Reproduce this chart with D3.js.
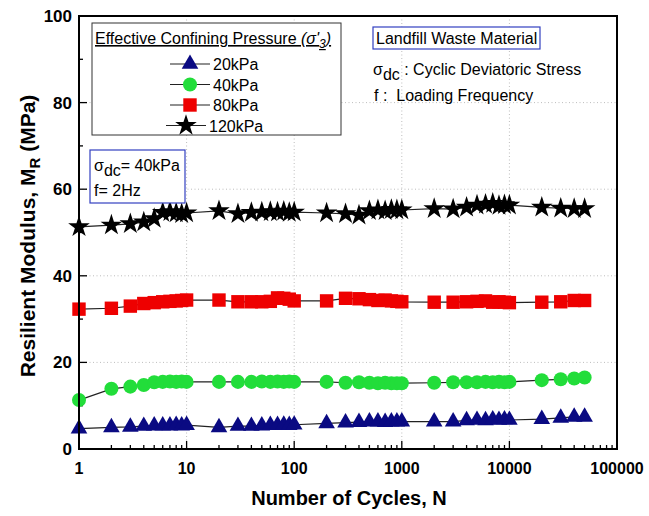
<!DOCTYPE html>
<html>
<head>
<meta charset="utf-8">
<script src="https://cdn.jsdelivr.net/npm/d3@7"></script>
<style>
  html, body { margin: 0; padding: 0; background: #fff; }
  svg { display: block; font-family: Arial, "Liberation Sans", sans-serif; }
</style>
</head>
<body>
<svg id="chart" width="649" height="516"></svg>
<script>
// Loading cycles at which the resilient modulus was recorded
const cycles = [1, 2, 3, 4, 5, 6, 7, 8, 9, 10,
  20, 30, 40, 50, 60, 70, 80, 90, 100,
  200, 300, 400, 500, 600, 700, 800, 900, 1000,
  2000, 3000, 4000, 5000, 6000, 7000, 8000, 9000, 10000,
  20000, 30000, 40000, 50000];

// Resilient modulus M_R (MPa) for each effective confining pressure
const mr20 = [4.7, 5.0, 5.1, 5.3, 5.4, 5.4, 5.4, 5.5, 5.4, 5.5,
  5.0, 5.3, 5.3, 5.4, 5.5, 5.5, 5.6, 5.5, 5.6,
  5.9, 6.1, 6.2, 6.3, 6.3, 6.2, 6.3, 6.3, 6.3,
  6.3, 6.3, 6.6, 6.7, 6.6, 6.8, 6.7, 6.8, 6.7,
  6.9, 7.2, 7.4, 7.4];
const mr40 = [11.3, 13.9, 14.4, 14.8, 15.4, 15.5, 15.6, 15.5, 15.6, 15.5,
  15.5, 15.5, 15.5, 15.6, 15.5, 15.6, 15.5, 15.6, 15.5,
  15.5, 15.3, 15.4, 15.3, 15.2, 15.3, 15.2, 15.2, 15.2,
  15.3, 15.4, 15.4, 15.4, 15.5, 15.4, 15.5, 15.4, 15.5,
  15.9, 16.1, 16.3, 16.5];
const mr80 = [32.3, 32.5, 33.0, 33.6, 33.8, 34.0, 34.1, 34.2, 34.3, 34.4,
  34.4, 34.0, 34.0, 34.0, 34.1, 34.9, 34.8, 34.6, 34.2,
  34.2, 34.8, 34.7, 34.5, 34.3, 34.4, 34.2, 34.1, 34.0,
  33.9, 33.9, 34.0, 34.1, 34.2, 33.9, 34.0, 33.9, 33.8,
  33.9, 34.0, 34.3, 34.3];
const mr120 = [51.3, 51.7, 52.0, 52.4, 53.2, 54.6, 54.8, 54.5, 54.3, 54.5,
  55.0, 54.3, 54.6, 54.7, 54.8, 54.7, 54.9, 54.6, 54.7,
  54.5, 54.3, 54.0, 55.0, 55.2, 55.0, 55.3, 55.2, 55.2,
  55.5, 55.4, 55.8, 56.3, 56.5, 56.7, 56.2, 56.4, 56.3,
  55.8, 55.6, 55.5, 55.5];

const seriesNames = ["20kPa", "40kPa", "80kPa", "120kPa"];
const seriesValues = [mr20, mr40, mr80, mr120];

// Axis tick values
const xTicks = [1, 10, 100, 1000, 10000, 100000];
const yTicks = [0, 20, 40, 60, 80, 100];

// Marker appearance per series
const styles = [
  { symbol: d3.symbolTriangle, size: 120, fill: "#0a0a82" },
  { symbol: d3.symbolCircle,   size: 155, fill: "#22dd3a" },
  { symbol: d3.symbolSquare,   size: 180, fill: "#ee0000" },
  { symbol: d3.symbolStar,     size: 145, fill: "#000000" }
];

const svg = d3.select("#chart");
const plotL = 79, plotR = 617, plotT = 16, plotB = 449;

const x = d3.scaleLog().domain([1, 100000]).range([plotL, plotR]);
const y = d3.scaleLinear().domain([0, 100]).range([plotB, plotT]);

// Dotted grid at the major ticks
const grid = svg.append("g").attr("stroke", "#bdbdbd").attr("stroke-width", 1)
  .attr("stroke-dasharray", "1,2.5");
xTicks.slice(1, -1).forEach(v => {
  grid.append("line").attr("x1", x(v)).attr("x2", x(v)).attr("y1", plotT).attr("y2", plotB);
});
yTicks.slice(1, -1).forEach(v => {
  grid.append("line").attr("x1", plotL).attr("x2", plotR).attr("y1", y(v)).attr("y2", y(v));
});

// Inward-facing ticks
const ticks = svg.append("g").attr("stroke", "#000").attr("stroke-width", 1.3);
const xMinor = [];
for (let d = 1; d < 100000; d *= 10) for (let k = 2; k <= 9; k++) xMinor.push(d * k);
xMinor.forEach(v => ticks.append("line").attr("x1", x(v)).attr("x2", x(v)).attr("y1", plotB).attr("y2", plotB - 4));
xTicks.forEach(v => ticks.append("line").attr("x1", x(v)).attr("x2", x(v)).attr("y1", plotB).attr("y2", plotB - 8));
d3.range(10, 100, 20).forEach(v => ticks.append("line").attr("x1", plotL).attr("x2", plotL + 4).attr("y1", y(v)).attr("y2", y(v)));
yTicks.forEach(v => ticks.append("line").attr("x1", plotL).attr("x2", plotL + 8).attr("y1", y(v)).attr("y2", y(v)));

// Tick labels
svg.append("g").selectAll("text").data(yTicks).join("text")
  .attr("x", plotL - 7).attr("y", d => y(d) + 6)
  .attr("text-anchor", "end").attr("font-size", 17).attr("font-weight", "bold")
  .text(d => d);
svg.append("g").selectAll("text").data(xTicks).join("text")
  .attr("x", d => x(d)).attr("y", plotB + 25)
  .attr("text-anchor", "middle").attr("font-size", 16).attr("font-weight", "bold")
  .text(d => d);

// Axis titles
svg.append("text").attr("x", 349).attr("y", 505).attr("text-anchor", "middle")
  .attr("font-size", 20).attr("font-weight", "bold").text("Number of Cycles, N");
const yt = svg.append("text").attr("transform", "translate(35,236) rotate(-90)")
  .attr("text-anchor", "middle").attr("font-size", 21).attr("font-weight", "bold");
yt.append("tspan").text("Resilient Modulus, M");
yt.append("tspan").attr("font-size", 15).attr("dy", 5).text("R");
yt.append("tspan").attr("dy", -5).text(" (MPa)");

// Series: connecting line then markers
const line = d3.line().x(d => x(d[0])).y(d => y(d[1]));
seriesValues.forEach((vals, i) => {
  const pts = cycles.map((c, j) => [c, vals[j]]);
  svg.append("path").datum(pts).attr("d", line)
    .attr("fill", "none").attr("stroke", "#222").attr("stroke-width", 1.2);
  const sym = d3.symbol().type(styles[i].symbol).size(styles[i].size);
  svg.append("g").selectAll("path").data(pts).join("path")
    .attr("transform", d => `translate(${x(d[0])},${y(d[1])})`)
    .attr("d", sym).attr("fill", styles[i].fill);
});

// Plot frame
svg.append("rect").attr("x", plotL).attr("y", plotT).attr("width", plotR - plotL).attr("height", plotB - plotT)
  .attr("fill", "none").attr("stroke", "#000").attr("stroke-width", 2);

// Legend
const lg = svg.append("g");
lg.append("rect").attr("x", 92).attr("y", 23).attr("width", 249).attr("height", 112)
  .attr("fill", "#fff").attr("stroke", "#333").attr("stroke-width", 1);
const lt = lg.append("text").attr("x", 95).attr("y", 44).attr("font-size", 16)
  .attr("text-decoration", "underline");
lt.append("tspan").text("Effective Confining Pressure ");
lt.append("tspan").attr("font-style", "italic").text("(σ'");
lt.append("tspan").attr("font-style", "italic").attr("font-size", 12).attr("dy", 4).text("3");
lt.append("tspan").attr("font-style", "italic").attr("dy", -4).text(")");
seriesNames.forEach((name, i) => {
  const cy = 64 + i * 20.5;
  const mx = i === 3 ? 186 : 190;
  lg.append("line").attr("x1", mx - 20).attr("x2", mx + 20).attr("y1", cy).attr("y2", cy)
    .attr("stroke", "#222").attr("stroke-width", 1.2);
  lg.append("path").attr("transform", `translate(${mx},${cy})`)
    .attr("d", d3.symbol().type(styles[i].symbol).size(styles[i].size)())
    .attr("fill", styles[i].fill);
  lg.append("text").attr("x", mx + 23).attr("y", cy + 6).attr("font-size", 16).text(name);
});

// Material annotation
svg.append("rect").attr("x", 373).attr("y", 27).attr("width", 167).attr("height", 22)
  .attr("fill", "#fff").attr("stroke", "#3340c0").attr("stroke-width", 1.2);
svg.append("text").attr("x", 376).attr("y", 44).attr("font-size", 16).text("Landfill Waste Material");
const s1 = svg.append("text").attr("x", 373).attr("y", 75).attr("font-size", 16);
s1.append("tspan").text("σ");
s1.append("tspan").attr("dy", 5).text("dc");
s1.append("tspan").attr("dy", -5).text("\u00a0: Cyclic Deviatoric Stress");
svg.append("text").attr("x", 374).attr("y", 101).attr("font-size", 16).text("f :\u00a0 Loading Frequency");

// Test condition box
svg.append("rect").attr("x", 90).attr("y", 150).attr("width", 95).attr("height", 53)
  .attr("fill", "#fff").attr("stroke", "#3340c0").attr("stroke-width", 1.2);
const c1 = svg.append("text").attr("x", 94).attr("y", 171).attr("font-size", 16);
c1.append("tspan").text("σ");
c1.append("tspan").attr("dy", 5).text("dc");
c1.append("tspan").attr("dy", -5).text("= 40kPa");
svg.append("text").attr("x", 94).attr("y", 196).attr("font-size", 16).text("f= 2Hz");
</script>
</body>
</html>
